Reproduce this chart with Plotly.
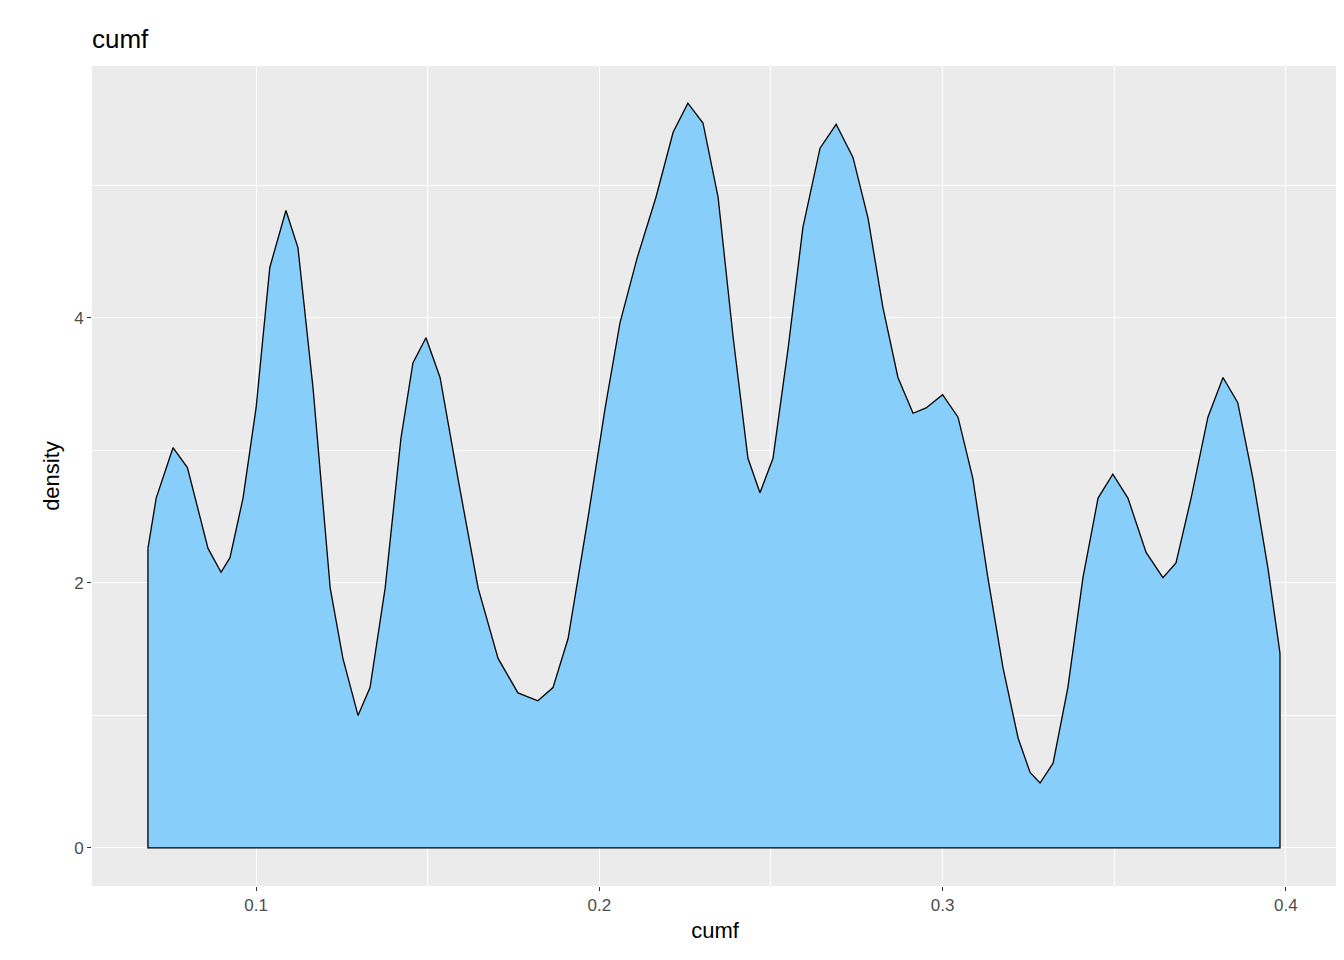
import plotly.graph_objects as go

# density curve
cumf = [0.0685, 0.0709, 0.0758, 0.080, 0.086, 0.0898, 0.0924, 0.0962, 0.1, 0.104,
        0.1087, 0.1122, 0.1166, 0.1216, 0.1253, 0.1297, 0.1332, 0.1376, 0.1422, 0.1457,
        0.1495, 0.1536, 0.1588, 0.1647, 0.1705, 0.1763, 0.1821, 0.1865, 0.1909, 0.1967,
        0.2017, 0.206, 0.211, 0.2165, 0.2215, 0.2258, 0.2302, 0.2346, 0.239, 0.2433,
        0.2468, 0.2506, 0.255, 0.2593, 0.2643, 0.269, 0.2739, 0.2783, 0.2826, 0.287,
        0.2914, 0.2952, 0.3, 0.3045, 0.3088, 0.3132, 0.3176, 0.322, 0.3255, 0.3284,
        0.3322, 0.3365, 0.3409, 0.3453, 0.3496, 0.354, 0.3593, 0.3642, 0.368, 0.3724,
        0.3773, 0.3817, 0.386, 0.3904, 0.3948, 0.3983]
density = [2.26, 2.64, 3.02, 2.87, 2.26, 2.08, 2.19, 2.64, 3.32, 4.38,
           4.81, 4.53, 3.47, 1.96, 1.43, 1.0, 1.21, 1.96, 3.09, 3.66,
           3.85, 3.55, 2.79, 1.96, 1.43, 1.17, 1.11, 1.21, 1.58, 2.49,
           3.32, 3.96, 4.45, 4.91, 5.40, 5.62, 5.47, 4.91, 3.85, 2.94,
           2.68, 2.94, 3.77, 4.68, 5.28, 5.46, 5.21, 4.75, 4.08, 3.55,
           3.28, 3.32, 3.42, 3.25, 2.79, 2.04, 1.36, 0.83, 0.57, 0.49,
           0.64, 1.21, 2.04, 2.64, 2.82, 2.64, 2.23, 2.04, 2.15, 2.64,
           3.25, 3.55, 3.36, 2.79, 2.11, 1.47]

xs = cumf + [cumf[-1], cumf[0], cumf[0]]
ys = density + [0, 0, density[0]]

fig = go.Figure(go.Scatter(
    x=xs, y=ys, mode="lines", fill="toself", fillcolor="#87CEFA",
    line=dict(color="black", width=1.3),
    hoverinfo="skip"))

grid = dict(showgrid=True, gridcolor="white", gridwidth=1.3, zeroline=False,
            ticks="outside", ticklen=4, tickcolor="#333333", automargin=False,
            tickfont=dict(size=17, color="#4D4D4D"), showline=False)

fig.update_layout(
    width=1344, height=960,
    paper_bgcolor="white", plot_bgcolor="#EBEBEB",
    font=dict(family="Liberation Sans, Arial, sans-serif", color="black"),
    title=dict(text="cumf", x=84 / 1344, xanchor="left", y=0.968, yanchor="middle",
               font=dict(size=26)),
    margin=dict(l=84, r=14, t=58, b=82),
    showlegend=False,
    xaxis=dict(range=[0.0522, 0.4152], tickvals=[0.1, 0.2, 0.3, 0.4],
               ticktext=["0.1", "0.2", "0.3", "0.4"],
               minor=dict(dtick=0.05, tick0=0.05, showgrid=True, gridcolor="white", gridwidth=0.6),
               title=dict(text="cumf", font=dict(size=22), standoff=8), **grid),
    yaxis=dict(range=[-0.287, 5.90], tickvals=[0, 2, 4],
               minor=dict(dtick=1, tick0=1, showgrid=True, gridcolor="white", gridwidth=0.6),
               title=dict(text="density", font=dict(size=22), standoff=8), **grid),
)

fig.write_html("out.html")
